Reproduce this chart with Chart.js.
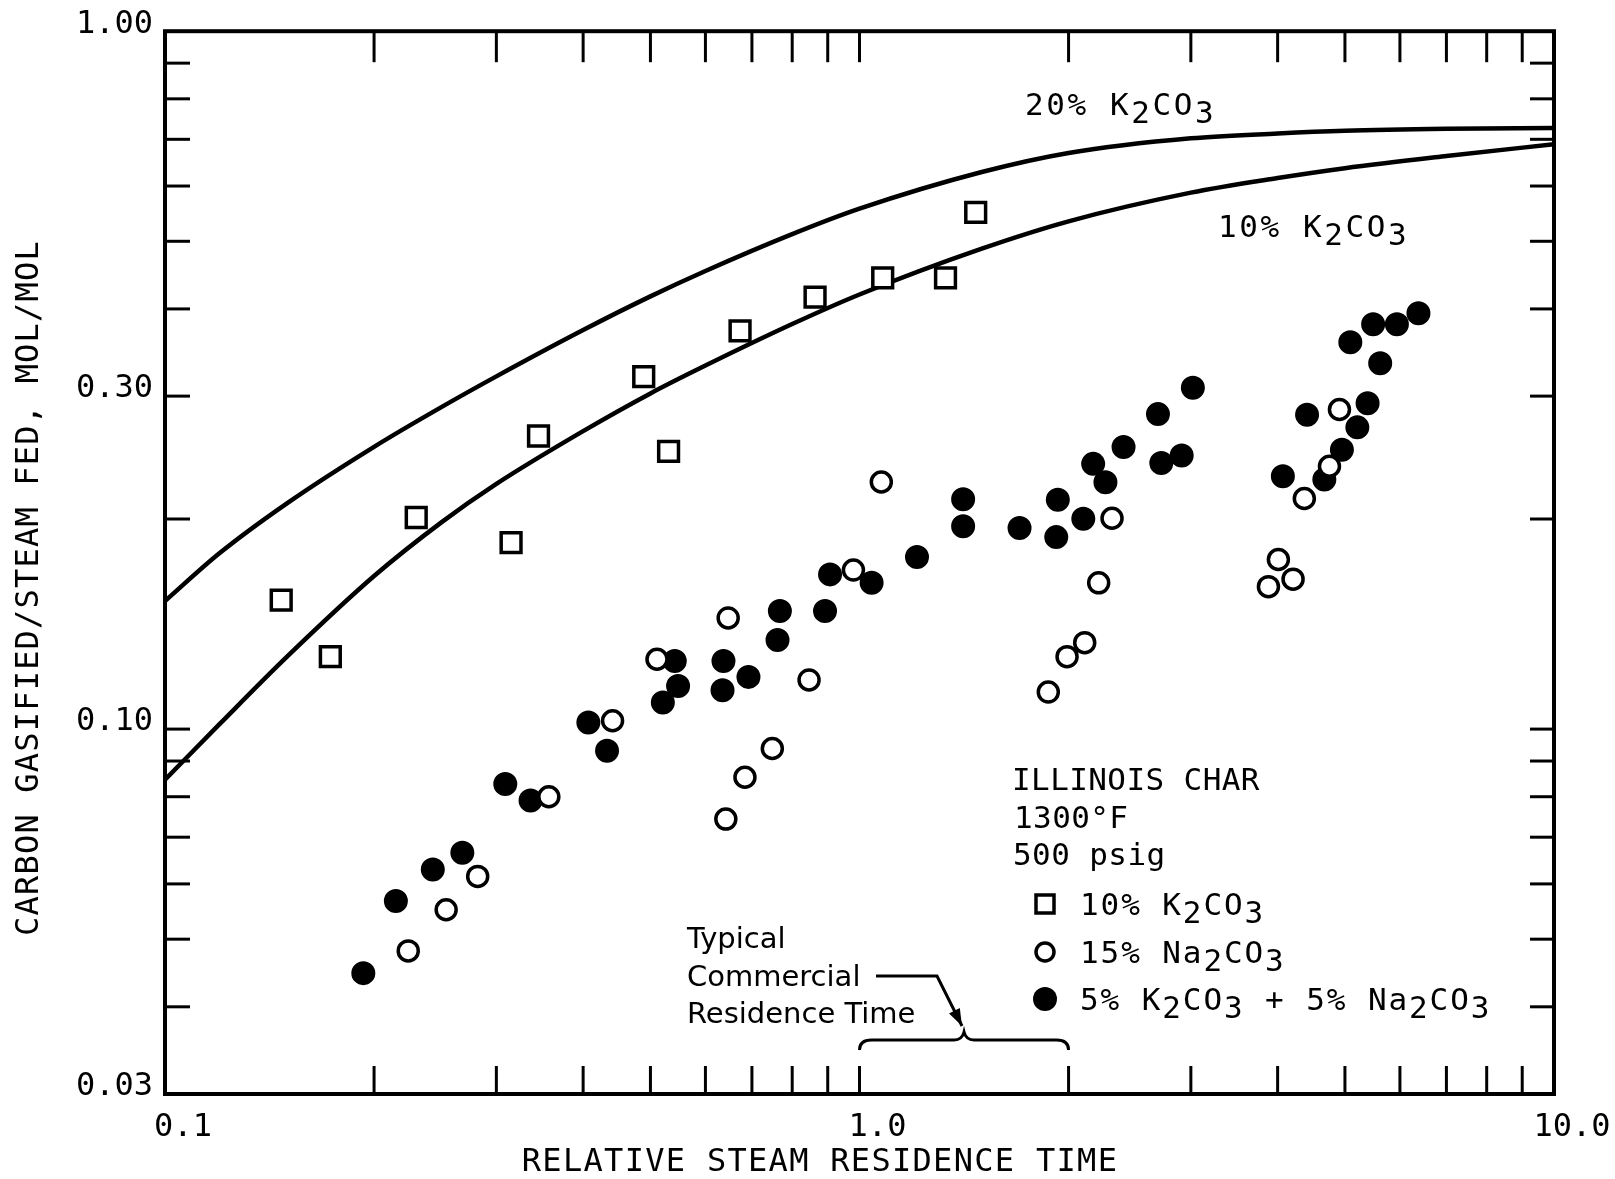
<!DOCTYPE html>
<html>
<head>
<meta charset="utf-8">
<script src="https://cdn.jsdelivr.net/npm/chart.js@4"></script>
<style>
  html, body { margin: 0; padding: 0; background: #fff; }
</style>
</head>
<body>
<canvas id="graph" width="1615" height="1179"></canvas>
<script>
// ---- data ----
var xTicks = [0.1, 0.2, 0.3, 0.4, 0.5, 0.6, 0.7, 0.8, 0.9, 1, 2, 3, 4, 5, 6, 7, 8, 9, 10];
var yTicks = [0.03, 0.04, 0.05, 0.06, 0.07, 0.08, 0.09, 0.1, 0.2, 0.3, 0.4, 0.5, 0.6, 0.7, 0.8, 0.9, 1];
var xLabelVals = [0.1, 1, 10];
var xLabelText = ['0.1', '1.0', '10.0'];
var yLabelVals = [0.03, 0.1, 0.3, 1];
var yLabelText = ['0.03', '0.10', '0.30', '1.00'];

// fitted curves
var curveX = [0.1, 0.12, 0.15, 0.2, 0.25, 0.3, 0.4, 0.5, 0.6, 0.8, 1.0, 1.5, 2, 3, 4, 5, 7, 10];
var k20Curve = [0.1526, 0.1789, 0.2108, 0.2538, 0.2893, 0.3202, 0.3731, 0.4169, 0.4533, 0.5119, 0.5568, 0.6284, 0.6692, 0.7024, 0.7136, 0.7200, 0.7247, 0.7269];
var k10Curve = [0.0846, 0.1018, 0.1271, 0.1657, 0.1978, 0.2246, 0.2673, 0.3027, 0.3318, 0.3805, 0.4195, 0.4880, 0.5340, 0.5870, 0.6160, 0.6363, 0.6624, 0.6887];

// 10% K2CO3 (open squares)
var k10X = [0.147, 0.173, 0.230, 0.315, 0.345, 0.489, 0.531, 0.673, 0.863, 1.08, 1.33, 1.47];
var k10Y = [0.153, 0.127, 0.201, 0.185, 0.263, 0.320, 0.250, 0.372, 0.416, 0.443, 0.443, 0.550];

// 15% Na2CO3 (open circles)
var naX = [0.224, 0.254, 0.282, 0.357, 0.441, 0.511, 0.647, 0.642, 0.684, 0.749, 0.846, 0.980, 1.075,
           1.87, 1.99, 2.11, 2.21, 2.31, 3.88, 4.01, 4.21, 4.37, 4.75, 4.91];
var naY = [0.0481, 0.0551, 0.0615, 0.0800, 0.1028, 0.1259, 0.1443, 0.0743, 0.0853, 0.0938, 0.1176, 0.169, 0.226,
           0.113, 0.127, 0.133, 0.162, 0.2005, 0.160, 0.175, 0.164, 0.214, 0.238, 0.287];

// 5% K2CO3 + 5% Na2CO3 (filled circles)
var mixX = [0.193, 0.215, 0.243, 0.268, 0.309, 0.336, 0.407, 0.433, 0.542, 0.548, 0.521, 0.637, 0.635, 0.692,
            0.768, 0.762, 0.892, 0.907, 1.041, 1.21, 1.41, 1.41, 1.70, 1.92, 1.93, 2.10, 2.17, 2.26, 2.40,
            2.69, 2.72, 2.91, 3.02, 4.07, 4.41, 4.67, 4.95, 5.21, 5.39, 5.62, 5.09, 5.49, 5.94, 6.38];
var mixY = [0.0447, 0.0567, 0.0629, 0.0665, 0.0834, 0.0790, 0.1022, 0.0931, 0.1252, 0.1153, 0.1092, 0.1252, 0.1137, 0.1188,
            0.1476, 0.1342, 0.1476, 0.1666, 0.1621, 0.1764, 0.2135, 0.1953, 0.1942, 0.1884, 0.2131, 0.2002, 0.2399, 0.2258, 0.2537,
            0.2827, 0.2406, 0.2466, 0.3083, 0.2303, 0.2821, 0.2278, 0.2514, 0.2706, 0.2931, 0.3344, 0.3583, 0.3802, 0.3802, 0.3942];

var bracketFrom = 1.0, bracketTo = 2.0;

var MONO = "'DejaVu Sans Mono', 'Liberation Mono', monospace";
var SANS = "'DejaVu Sans', 'Liberation Sans', sans-serif";

function pts(xs, ys) {
  return xs.map(function(x, i) { return { x: x, y: ys[i] }; });
}

function findLabel(v, vals, texts) {
  for (var i = 0; i < vals.length; i++) {
    if (Math.abs(v - vals[i]) < 1e-9) return texts[i];
  }
  return '';
}

// text with "_n" subscripts, drawn char by char with extra spacing
function chemWidth(ctx, str, sp) {
  var w = 0;
  for (var i = 0; i < str.length; i++) {
    var ch = str[i];
    if (ch === '_') ch = str[++i];
    w += ctx.measureText(ch).width + sp;
  }
  return w;
}
function drawChem(ctx, str, x, y, sp, sub) {
  var cx = x;
  for (var i = 0; i < str.length; i++) {
    var ch = str[i], dy = 0;
    if (ch === '_') { ch = str[++i]; dy = sub; }
    ctx.fillText(ch, cx, y + dy);
    cx += ctx.measureText(ch).width + sp;
  }
  return cx;
}

function line(ctx, x1, y1, x2, y2) {
  ctx.beginPath();
  ctx.moveTo(x1, y1);
  ctx.lineTo(x2, y2);
  ctx.stroke();
}

var decor = {
  id: 'decor',
  afterDraw: function(chart) {
    var ctx = chart.ctx;
    var a = chart.chartArea;
    var xs = chart.scales.x, ys = chart.scales.y;
    ctx.save();
    ctx.strokeStyle = '#000';
    ctx.fillStyle = '#000';

    // inward ticks on all four sides
    ctx.lineWidth = 3;
    xTicks.forEach(function(v) {
      if (v <= 0.1 || v >= 10) return;
      var px = xs.getPixelForValue(v);
      line(ctx, px, a.bottom, px, a.bottom - 28);
      line(ctx, px, a.top, px, a.top + 31);
    });
    yTicks.forEach(function(v) {
      if (v <= 0.03 || v >= 1) return;
      var py = ys.getPixelForValue(v);
      line(ctx, a.left, py, a.left + 25, py);
      line(ctx, a.right, py, a.right - 24, py);
    });
    ctx.lineWidth = 4;
    ctx.strokeRect(a.left, a.top, a.right - a.left, a.bottom - a.top);

    // axis titles
    ctx.font = '32px ' + MONO;
    ctx.textBaseline = 'middle';
    var xt = 'RELATIVE STEAM RESIDENCE TIME';
    var w = chemWidth(ctx, xt, 1.3);
    drawChem(ctx, xt, 820 - w / 2, 1163, 1.3, 0);
    ctx.save();
    ctx.translate(30, 588);
    ctx.rotate(-Math.PI / 2);
    var yt = 'CARBON GASIFIED/STEAM FED, MOL/MOL';
    w = chemWidth(ctx, yt, 1.2);
    drawChem(ctx, yt, -w / 2, 0, 1.2, 0);
    ctx.restore();

    // curve labels
    ctx.textBaseline = 'alphabetic';
    ctx.font = '31px ' + MONO;
    drawChem(ctx, '20% K_2CO_3', 1025, 115, 2.6, 8);
    drawChem(ctx, '10% K_2CO_3', 1218, 237, 2.6, 8);

    // conditions + legend
    drawChem(ctx, 'ILLINOIS CHAR', 1012, 790, 0.4, 0);
    drawChem(ctx, '1300°F', 1014, 828, 0.4, 0);
    drawChem(ctx, '500 psig', 1013, 865, 0.4, 0);

    var rows = [
      { y: 904, label: '10% K_2CO_3', kind: 'square' },
      { y: 952, label: '15% Na_2CO_3', kind: 'open' },
      { y: 999, label: '5% K_2CO_3 + 5% Na_2CO_3', kind: 'filled' }
    ];
    rows.forEach(function(r) {
      var mx = 1045;
      ctx.lineWidth = 3.5;
      ctx.beginPath();
      if (r.kind === 'square') {
        ctx.rect(mx - 9, r.y - 9, 18, 18);
        ctx.stroke();
      } else if (r.kind === 'open') {
        ctx.arc(mx, r.y, 9, 0, Math.PI * 2);
        ctx.stroke();
      } else {
        ctx.arc(mx, r.y, 12, 0, Math.PI * 2);
        ctx.fill();
      }
      drawChem(ctx, r.label, 1080, r.y + 11, 1.9, 8);
    });

    // typical commercial residence time note
    ctx.font = '29px ' + SANS;
    ctx.fillText('Typical', 687, 948);
    ctx.fillText('Commercial', 687, 986);
    ctx.fillText('Residence Time', 687, 1023);

    var bl = xs.getPixelForValue(bracketFrom);
    var br = xs.getPixelForValue(bracketTo);
    var bm = (bl + br) / 2;
    var by = 1040;

    // arrow
    ctx.lineWidth = 3;
    var tipX = bm - 2, tipY = 1026;
    ctx.beginPath();
    ctx.moveTo(876, 976);
    ctx.lineTo(937, 976);
    ctx.lineTo(tipX, tipY);
    ctx.stroke();
    var ang = Math.atan2(tipY - 976, tipX - 937);
    ctx.beginPath();
    ctx.moveTo(tipX, tipY);
    ctx.lineTo(tipX - 17 * Math.cos(ang) + 6 * Math.sin(ang), tipY - 17 * Math.sin(ang) - 6 * Math.cos(ang));
    ctx.lineTo(tipX - 17 * Math.cos(ang) - 6 * Math.sin(ang), tipY - 17 * Math.sin(ang) + 6 * Math.cos(ang));
    ctx.closePath();
    ctx.fill();

    // curly bracket
    ctx.lineWidth = 3;
    ctx.beginPath();
    ctx.moveTo(bl, by + 10);
    ctx.quadraticCurveTo(bl, by, bl + 12, by);
    ctx.lineTo(bm - 10, by);
    ctx.quadraticCurveTo(bm - 2, by, bm, by - 8);
    ctx.quadraticCurveTo(bm + 2, by, bm + 10, by);
    ctx.lineTo(br - 12, by);
    ctx.quadraticCurveTo(br, by, br, by + 10);
    ctx.stroke();

    ctx.restore();
  }
};

Chart.defaults.color = '#000';
Chart.defaults.font.family = MONO;

var chart = new Chart(document.getElementById('graph').getContext('2d'), {
  type: 'scatter',
  data: {
    datasets: [
      {
        label: '10% K2CO3',
        data: pts(k10X, k10Y),
        pointStyle: 'rect',
        pointRadius: 14,
        borderWidth: 3.5,
        borderColor: '#000',
        backgroundColor: '#fff',
        order: 0
      },
      {
        label: '15% Na2CO3',
        data: pts(naX, naY),
        pointStyle: 'circle',
        pointRadius: 10,
        borderWidth: 3.5,
        borderColor: '#000',
        backgroundColor: '#fff',
        order: 1
      },
      {
        label: '5% K2CO3 + 5% Na2CO3',
        data: pts(mixX, mixY),
        pointStyle: 'circle',
        pointRadius: 11,
        borderWidth: 2,
        borderColor: '#000',
        backgroundColor: '#000',
        order: 2
      },
      {
        label: '20% K2CO3 curve',
        data: pts(curveX, k20Curve),
        showLine: true,
        pointRadius: 0,
        borderWidth: 4.5,
        borderColor: '#000',
        cubicInterpolationMode: 'monotone',
        fill: false,
        order: 3
      },
      {
        label: '10% K2CO3 curve',
        data: pts(curveX, k10Curve),
        showLine: true,
        pointRadius: 0,
        borderWidth: 4.5,
        borderColor: '#000',
        cubicInterpolationMode: 'monotone',
        fill: false,
        order: 3
      }
    ]
  },
  options: {
    responsive: false,
    animation: false,
    events: [],
    layout: { padding: { top: 29, right: 61, left: 0, bottom: 0 } },
    plugins: {
      legend: { display: false },
      tooltip: { enabled: false },
      title: { display: false }
    },
    scales: {
      x: {
        type: 'logarithmic',
        position: 'bottom',
        min: 0.1,
        max: 10,
        afterBuildTicks: function(s) {
          s.ticks = xTicks.map(function(v) { return { value: v }; });
        },
        afterFit: function(s) { s.height = 85; },
        grid: { display: false, drawTicks: false },
        border: { display: false },
        ticks: {
          autoSkip: false,
          maxRotation: 0,
          minRotation: 0,
          padding: 14,
          labelOffset: 18,
          color: '#000',
          font: { family: MONO, size: 32 },
          callback: function(v) { return findLabel(v, xLabelVals, xLabelText); }
        }
      },
      y: {
        type: 'logarithmic',
        position: 'left',
        min: 0.03,
        max: 1,
        afterBuildTicks: function(s) {
          s.ticks = yTicks.map(function(v) { return { value: v }; });
        },
        afterFit: function(s) { s.width = 165; },
        grid: { display: false, drawTicks: false },
        border: { display: false },
        ticks: {
          autoSkip: false,
          padding: 12,
          labelOffset: -7,
          color: '#000',
          font: { family: MONO, size: 32 },
          callback: function(v) { return findLabel(v, yLabelVals, yLabelText); }
        }
      }
    }
  },
  plugins: [decor]
});
</script>
</body>
</html>
